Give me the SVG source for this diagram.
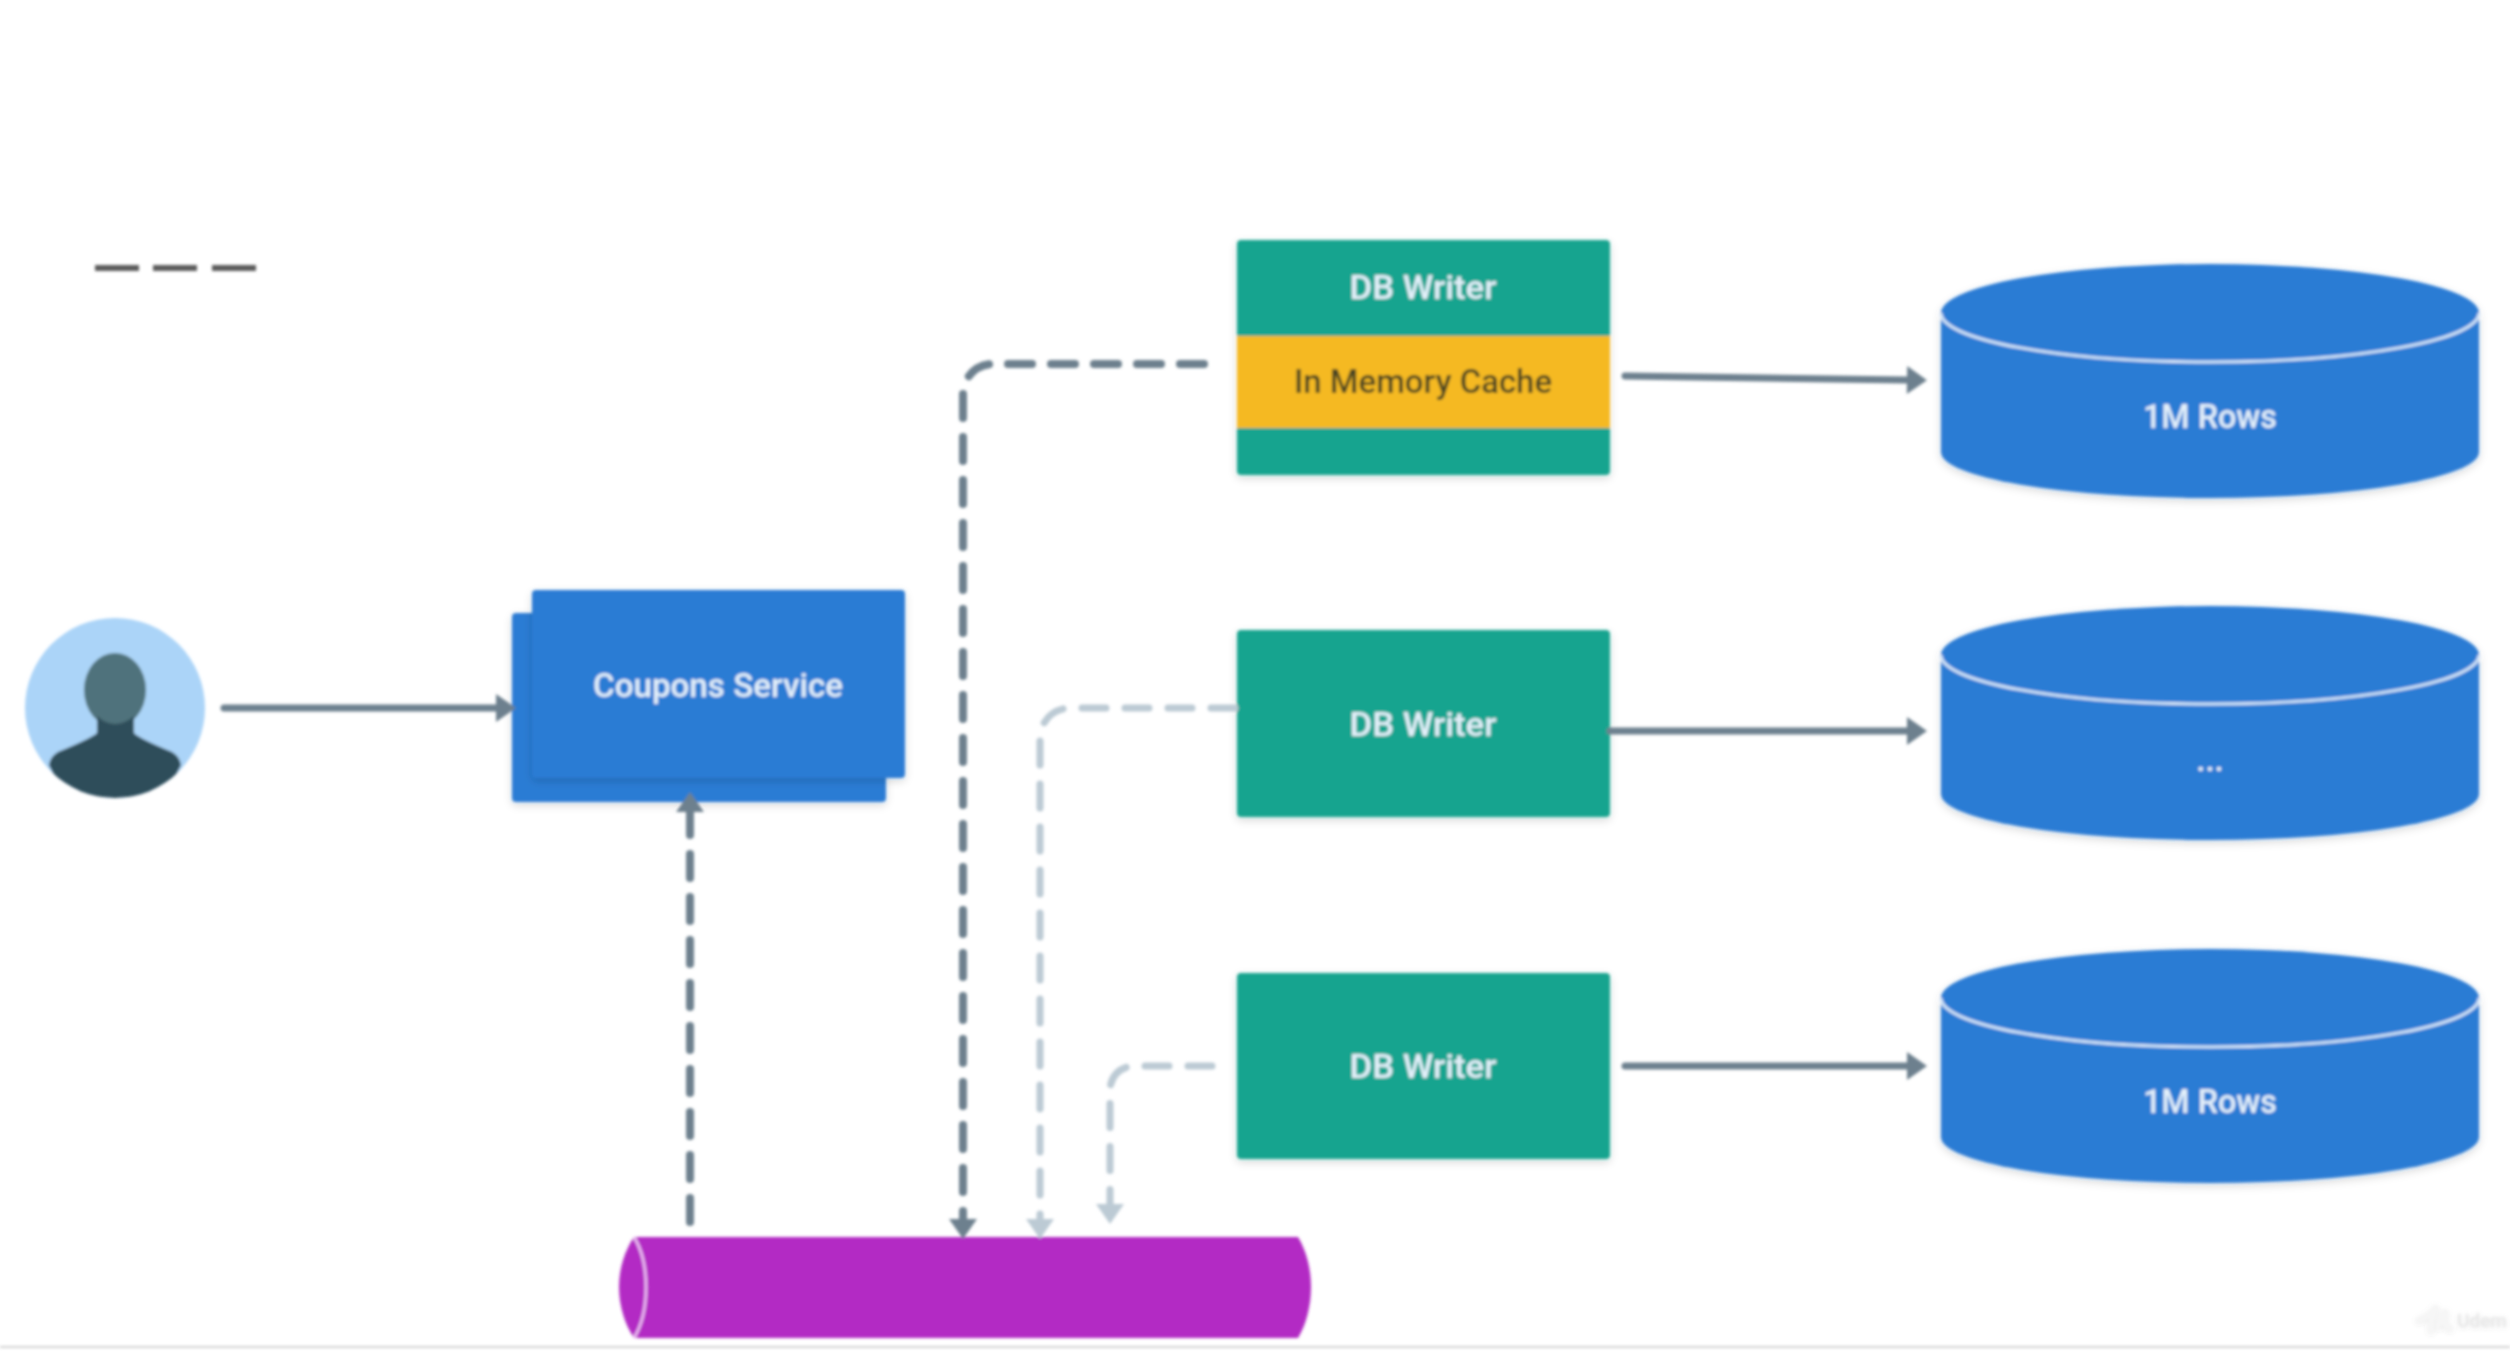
<svg xmlns="http://www.w3.org/2000/svg" width="2510" height="1362" viewBox="0 0 2510 1362">
<style>
text{font-family:"Roboto","Liberation Sans",sans-serif;font-weight:500;font-size:33px;text-anchor:middle;fill:#e4f0fa}
.w{fill:#19a48f}
.b{fill:#2a7bd4}
.dk{stroke:#6d808e}
.lt{stroke:#bccad4}
.c{fill:none;stroke-linecap:round}
.dash{stroke-dasharray:24 19;stroke-width:8}
.dash.lt{stroke-width:7}
</style>
<defs>
<filter id="soft" filterUnits="userSpaceOnUse" x="0" y="0" width="2510" height="1362"><feGaussianBlur stdDeviation="1.5"/></filter>
<filter id="sh" x="-10%" y="-10%" width="120%" height="125%"><feDropShadow dx="0" dy="3" stdDeviation="4" flood-color="#000" flood-opacity=".16"/></filter>
<filter id="wm" x="-20%" y="-20%" width="140%" height="140%"><feDropShadow dx="0" dy="1" stdDeviation="2" flood-color="#000" flood-opacity=".18"/></filter>
<marker id="ad" markerUnits="userSpaceOnUse" markerWidth="22" markerHeight="32" viewBox="0 0 22 32" refX="1" refY="16" orient="auto"><path d="M1 2L21 16L1 30Z" fill="#6d808e"/></marker>
<marker id="al" markerUnits="userSpaceOnUse" markerWidth="22" markerHeight="32" viewBox="0 0 22 32" refX="1" refY="16" orient="auto"><path d="M1 2L21 16L1 30Z" fill="#bccad4"/></marker>
<clipPath id="cc"><circle cx="115" cy="708" r="90"/></clipPath>
</defs>
<rect width="2510" height="1362" fill="#fff"/>
<g filter="url(#soft)">
<g id="legend"><path d="M95 268H139M153 268H197M212 268H256" stroke="#5c5c5c" stroke-width="6" fill="none"/></g>
<g id="user">
<circle cx="115" cy="708" r="90" fill="#abd4f8"/>
<ellipse cx="115" cy="690" rx="31" ry="37" fill="#4f727b"/>
<path clip-path="url(#cc)" d="M97 716V733Q92 738 58 752Q50 757 49 765Q62 798 115 798Q168 798 181 765Q180 757 172 752Q138 738 134 733V716Q115 732 97 716Z" fill="#2f4d5a"/>
</g>
<g id="coupons-service">
<rect class="b" x="512" y="613" width="374" height="189" rx="4" filter="url(#sh)"/>
<rect class="b" x="532" y="590" width="373" height="188" rx="4" filter="url(#sh)"/>
<text x="718" y="697" textLength="250" lengthAdjust="spacingAndGlyphs">Coupons Service</text>
</g>
<g id="db-writer-1">
<rect class="w" x="1237" y="240" width="373" height="235" rx="4" filter="url(#sh)"/>
<rect x="1237" y="336" width="373" height="92" fill="#f5b922"/>
<text x="1423" y="299" textLength="147" lengthAdjust="spacingAndGlyphs">DB Writer</text>
<text x="1423" y="393" textLength="258" lengthAdjust="spacingAndGlyphs" style="fill:#4a4520">In Memory Cache</text>
</g>
<g id="db-writer-2">
<rect class="w" x="1237" y="630" width="373" height="187" rx="4" filter="url(#sh)"/>
<text x="1423" y="736" textLength="147" lengthAdjust="spacingAndGlyphs">DB Writer</text>
</g>
<g id="db-writer-3">
<rect class="w" x="1237" y="973" width="373" height="186" rx="4" filter="url(#sh)"/>
<text x="1423" y="1078" textLength="147" lengthAdjust="spacingAndGlyphs">DB Writer</text>
</g>
<g id="db-1">
<path class="b" filter="url(#sh)" d="M1941 313A269 49 0 0 1 2479 313V452A269 46 0 0 1 1941 452Z"/>
<path d="M1941 313A269 49 0 0 0 2479 313" fill="none" stroke="#d5e6f8" stroke-width="3"/>
<text x="2210" y="428" textLength="134" lengthAdjust="spacingAndGlyphs">1M Rows</text>
</g>
<g id="db-2">
<path class="b" filter="url(#sh)" d="M1941 655A269 49 0 0 1 2479 655V794A269 46 0 0 1 1941 794Z"/>
<path d="M1941 655A269 49 0 0 0 2479 655" fill="none" stroke="#d5e6f8" stroke-width="3"/>
<text x="2210" y="771">...</text>
</g>
<g id="db-3">
<path class="b" filter="url(#sh)" d="M1941 998A269 49 0 0 1 2479 998V1137A269 46 0 0 1 1941 1137Z"/>
<path d="M1941 998A269 49 0 0 0 2479 998" fill="none" stroke="#d5e6f8" stroke-width="3"/>
<text x="2210" y="1113" textLength="134" lengthAdjust="spacingAndGlyphs">1M Rows</text>
</g>
<g id="queue">
<path d="M634 1237H1298C1306 1250 1311 1268 1311 1287C1311 1306 1306 1325 1298 1338H634C625 1325 619 1306 619 1287C619 1268 625 1250 634 1237Z" fill="#b32cc4"/>
<path d="M634 1237C642 1250 646 1268 646 1287C646 1306 642 1325 634 1338" fill="none" stroke="#f0c4f6" stroke-width="2.500"/>
</g>
<g id="connectors">
<path class="c dk" stroke-width="7" d="M224 708H496" marker-end="url(#ad)"/>
<path class="c dk" stroke-width="7" d="M1625 376L1907 380" marker-end="url(#ad)"/>
<path class="c dk" stroke-width="7" d="M1610 731H1907" marker-end="url(#ad)"/>
<path class="c dk" stroke-width="7" d="M1625 1066H1907" marker-end="url(#ad)"/>
<path class="c dk dash" d="M690 1222V812" marker-end="url(#ad)"/>
<path class="c dk dash" d="M1204 364H993A30 30 0 0 0 963 394V1219" marker-end="url(#ad)"/>
<path class="c lt dash" d="M1235 708H1070A30 30 0 0 0 1040 738V1219" marker-end="url(#al)"/>
<path class="c lt dash" d="M1212 1066H1134A24 24 0 0 0 1110 1090V1204" marker-end="url(#al)"/>
</g>
<g id="page-edge"><rect x="0" y="1346" width="2510" height="2" fill="#d2d2d2"/></g>
<g id="watermark" filter="url(#wm)">
<path d="M2419 1320Q2431 1316 2437 1306Q2430 1318 2431 1330M2438 1326Q2443 1316 2446 1310Q2441 1324 2450 1328" fill="none" stroke="#f6f6f6" stroke-width="6" stroke-linecap="round"/>
<text x="2457" y="1327" style="font-size:19px;fill:#e8e8e8;text-anchor:start">Udem</text>
</g>
</g>
</svg>
